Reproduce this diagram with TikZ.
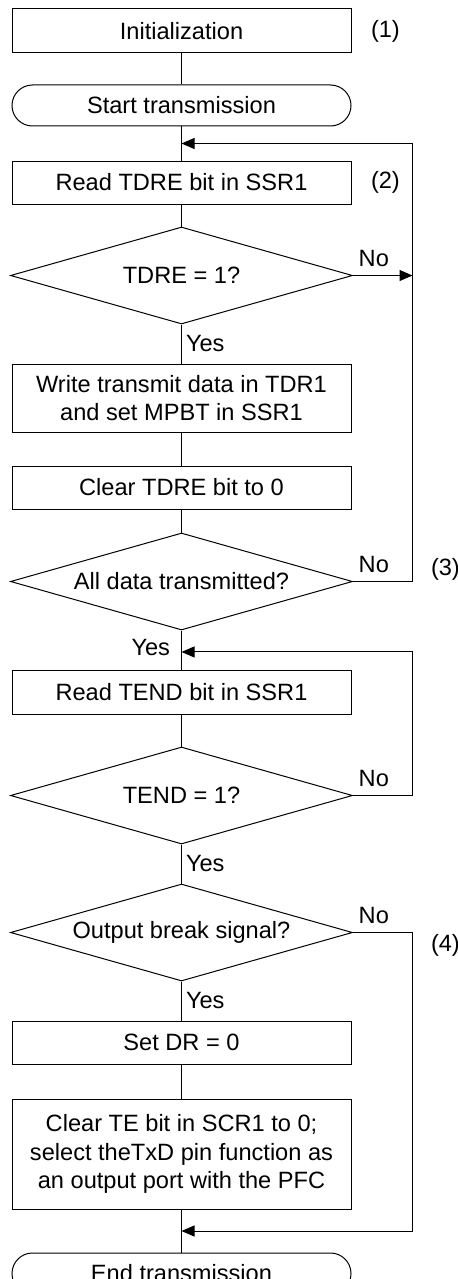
\documentclass[tikz,border=0pt]{standalone}
\usepackage{fontspec}
\setmainfont{Liberation Sans}
\usepackage{tikz}
\usetikzlibrary{arrows.meta,positioning,calc,shapes.geometric}
\newcommand{\fsz}{\fontsize{11.8}{14.3}\selectfont}
\tikzset{
  box/.style    ={draw, align=center, minimum width=169.5pt, minimum height=21.5pt, inner sep=2pt, font=\fsz},
  term/.style   ={draw, rounded corners=10.25pt, align=center, minimum width=169.5pt, minimum height=20.5pt, inner sep=2pt, font=\fsz},
  dec/.style    ={draw, diamond, aspect=3.5, minimum width=171pt, minimum height=48.5pt, inner sep=0pt, font=\fsz},
  lbl/.style    ={inner sep=1pt, font=\fsz},
  nolbl/.style  ={above, pos=0.35, inner sep=4pt, font=\fsz},
  yesr/.style   ={pos=0, anchor=north west, inner sep=1pt, xshift=1pt, yshift=-4pt, font=\fsz},
  yesl/.style   ={pos=0, anchor=north east, inner sep=1pt, xshift=-4.5pt, yshift=-3pt, font=\fsz},
  arr/.style    ={-{Triangle[length=6.5pt, width=5.5pt]}},
}

\begin{document}
\begin{tikzpicture}[line width=0.5pt]
  \useasboundingbox (0,0) rectangle (229pt,-639.5pt);
  \clip (0,0) rectangle (229pt,-639.5pt);
  \node[box, minimum height=22pt] (init) at (90.75pt,-15.5pt) {Initialization};
  \node[term, below=15.5pt of init] (start) {Start transmission};
  \node[box, below=17pt of start] (rd1) {Read TDRE bit in SSR1};
  \node[dec, below=11pt of rd1] (dec1) {TDRE = 1?};
  \node[box, minimum height=34pt, below=19.5pt of dec1] (wr) {Write transmit data in TDR1\\and set MPBT in SSR1};
  \node[box, below=16.5pt of wr] (clr) {Clear TDRE bit to 0};
  \node[dec, below=11.5pt of clr] (dec2) {All data transmitted?};
  \node[box, minimum height=22pt, below=19.5pt of dec2] (rd2) {Read TEND bit in SSR1};
  \node[dec, below=16pt of rd2] (dec3) {TEND = 1?};
  \node[dec, below=19.5pt of dec3] (dec4) {Output break signal?};
  \node[box, below=19.5pt of dec4] (setdr) {Set DR = 0};
  \node[box, minimum height=55pt, below=17pt of setdr] (clrte) {Clear TE bit in SCR1 to 0;\\select theTxD pin function as\\an output port with the PFC};
  \node[term, below=21.5pt of clrte] (fin) {End transmission};

  \coordinate (j1) at ($(start.south)!0.5!(rd1.north)$);
  \coordinate (j2) at ($(dec2.south)!0.55!(rd2.north)$);
  \coordinate (j3) at ($(clrte.south)!0.5!(fin.north)$);
  \coordinate (lp1) at ($(dec2.east)+(29.75pt,0)$);
  \coordinate (lp2) at ($(dec3.east)+(29.75pt,0)$);
  \coordinate (lp3) at ($(dec4.east)+(29.75pt,0)$);

  \node[lbl, right=8.5pt of init] (n1) {(1)};
  \node[lbl, right=8.5pt of rd1] (n2) {(2)};
  \node[lbl, right=8pt of lp1, yshift=6pt] (n3) {(3)};
  \node[lbl, right=8pt of lp3, yshift=-6.5pt] (n4) {(4)};

  \draw (init) -- (start);
  \draw (start) -- (rd1);
  \draw (rd1) -- (dec1);
  \draw (dec1) -- node[yesr] {Yes} (wr);
  \draw (wr) -- (clr);
  \draw (clr) -- (dec2);
  \draw (dec2) -- node[yesl] {Yes} (rd2);
  \draw (rd2) -- (dec3);
  \draw (dec3) -- node[yesr] {Yes} (dec4);
  \draw (dec4) -- node[yesr] {Yes} (setdr);
  \draw (setdr) -- (clrte);
  \draw (clrte) -- (fin);
  \draw[arr] (dec1.east) -- node[nolbl] {No} (dec1.east -| lp1);
  \draw[arr] (dec2.east) -- node[nolbl] {No} (lp1) |- (j1);
  \draw[arr] (dec3.east) -- node[nolbl] {No} (lp2) |- (j2);
  \draw[arr] (dec4.east) -- node[nolbl] {No} (lp3) |- (j3);
\end{tikzpicture}
\end{document}
